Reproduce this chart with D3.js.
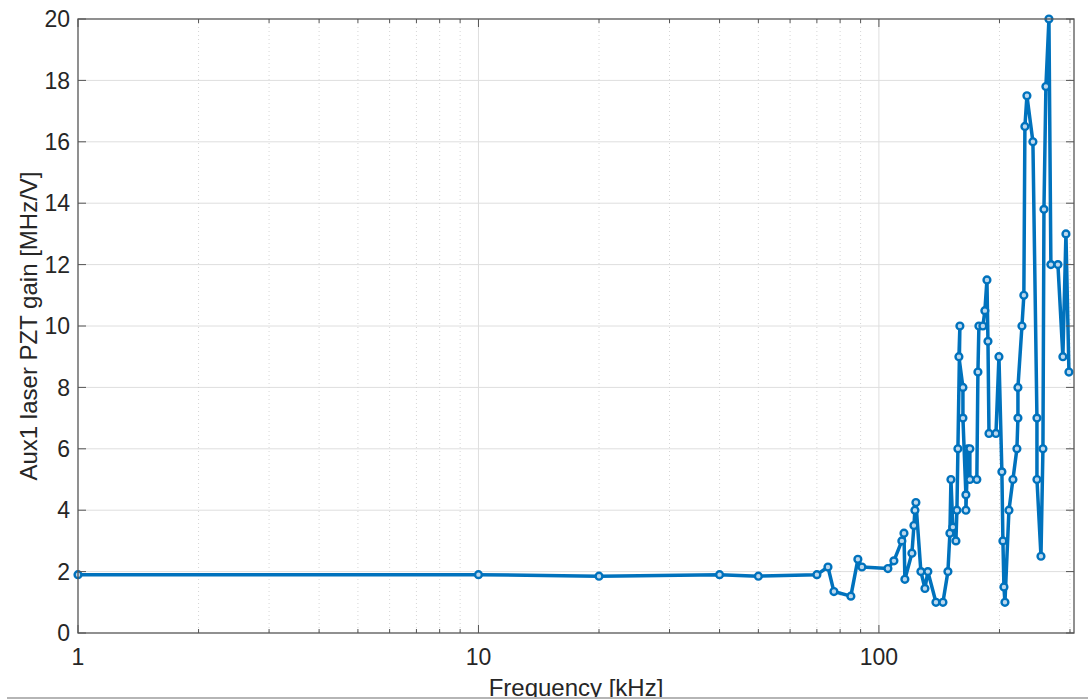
<!DOCTYPE html>
<html>
<head>
<meta charset="utf-8">
<script src="https://cdn.jsdelivr.net/npm/d3@7"></script>
<style>
  body { margin: 0; background: #fff; }
  svg { display: block; }
</style>
</head>
<body>
<div id="chart"></div>
<script>
// PZT gain vs frequency

// frequencies in kHz
const FREQ = [1, 10, 20, 40, 50, 70, 74.6, 77.2, 85.1, 88.6, 90.7,
  105.3, 109.0, 114.1, 115.5, 116.1, 120.9, 122.3, 123.0, 123.7,
  127.3, 130.3, 132.5, 138.8, 144.5, 148.7, 150.4, 151.3, 153.0,
  155.7, 156.6, 157.5, 159.3, 158.4, 162.1, 162.1, 164.9, 164.9,
  166.8, 168.7, 168.7, 175.6, 176.7, 177.7, 181.8, 183.9, 186.1,
  187.2, 188.3, 196.0, 199.4, 202.8, 204.0, 205.2, 206.4, 211.2,
  216.1, 221.1, 222.4, 222.4, 227.6, 230.1, 231.5, 234.2, 242.4,
  248.1, 248.1, 253.9, 256.8, 258.3, 261.2, 265.8, 268.8, 279.9,
  288.0, 293.1, 298.2];

// gain in MHz/V
const GAIN = [1.9, 1.9, 1.85, 1.9, 1.85, 1.9, 2.15, 1.35, 1.2, 2.4, 2.15,
  2.1, 2.35, 3.0, 3.25, 1.75, 2.6, 3.5, 4.0, 4.25,
  2.0, 1.45, 2.0, 1.0, 1.0, 2.0, 3.25, 5.0, 3.45,
  3.0, 4.0, 6.0, 10.0, 9.0, 8.0, 7.0, 4.5, 4.0,
  6.0, 6.0, 5.0, 5.0, 8.5, 10.0, 10.0, 10.5, 11.5,
  9.5, 6.5, 6.5, 9.0, 5.25, 3.0, 1.5, 1.0, 4.0,
  5.0, 6.0, 7.0, 8.0, 10.0, 11.0, 16.5, 17.5, 16.0,
  7.0, 5.0, 2.5, 6.0, 13.8, 17.8, 20.0, 12.0, 12.0,
  9.0, 13.0, 8.5];

const X_MAJOR = [1, 10, 100];
const X_MINOR = [2, 3, 4, 5, 6, 7, 8, 9, 20, 30, 40, 50, 60, 70, 80, 90, 200, 300];
const Y_TICKS = [0, 2, 4, 6, 8, 10, 12, 14, 16, 18, 20];

const X_LABEL = "Frequency [kHz]";
const Y_LABEL = "Aux1 laser PZT gain [MHz/V]";

const W = 1088, H = 700;
const margin = {top: 19, right: 14, bottom: 67, left: 78};
const width = W - margin.left - margin.right;
const height = H - margin.top - margin.bottom;

const data = FREQ.map((f, i) => ({f: f, g: GAIN[i]}));

const svg = d3.select("#chart").append("svg")
  .attr("width", W)
  .attr("height", H);

const g = svg.append("g")
  .attr("transform", `translate(${margin.left},${margin.top})`);

const x = d3.scaleLog().domain([1, 307]).range([0, width]);
const y = d3.scaleLinear().domain([0, 20]).range([height, 0]);

const axisColor = "#555";
const font = "'Liberation Sans', Arial, Helvetica, sans-serif";

// grid
g.append("g").selectAll("line")
  .data(Y_TICKS.slice(1, -1))
  .join("line")
  .attr("x1", 0).attr("x2", width)
  .attr("y1", d => y(d)).attr("y2", d => y(d))
  .attr("stroke", "#dedede").attr("stroke-width", 1);

g.append("g").selectAll("line")
  .data(X_MAJOR.slice(1))
  .join("line")
  .attr("x1", d => x(d)).attr("x2", d => x(d))
  .attr("y1", 0).attr("y2", height)
  .attr("stroke", "#dedede").attr("stroke-width", 1);

g.append("g").selectAll("line")
  .data(X_MINOR)
  .join("line")
  .attr("x1", d => x(d)).attr("x2", d => x(d))
  .attr("y1", 0).attr("y2", height)
  .attr("stroke", "#d6d6d6").attr("stroke-width", 1)
  .attr("stroke-dasharray", "1,3");

// the data line
const line = d3.line().x(d => x(d.f)).y(d => y(d.g));

g.append("path")
  .datum(data)
  .attr("fill", "none")
  .attr("stroke", "#0072BD")
  .attr("stroke-width", 3.5)
  .attr("stroke-linejoin", "round")
  .attr("d", line);

g.append("g").selectAll("circle")
  .data(data)
  .join("circle")
  .attr("cx", d => x(d.f))
  .attr("cy", d => y(d.g))
  .attr("r", 3.4)
  .attr("fill", "#bcd8ee")
  .attr("stroke", "#0072BD")
  .attr("stroke-width", 2.4);

// axes box
g.append("rect")
  .attr("x", 0).attr("y", 0)
  .attr("width", width).attr("height", height)
  .attr("fill", "none")
  .attr("stroke", axisColor).attr("stroke-width", 1.3);

// ticks (inward)
const yTickG = g.append("g");
Y_TICKS.forEach(t => {
  yTickG.append("line").attr("x1", 0).attr("x2", 8)
    .attr("y1", y(t)).attr("y2", y(t)).attr("stroke", axisColor);
  yTickG.append("line").attr("x1", width - 8).attr("x2", width)
    .attr("y1", y(t)).attr("y2", y(t)).attr("stroke", axisColor);
});

const xTickG = g.append("g");
X_MAJOR.concat(X_MINOR).forEach(t => {
  const len = X_MAJOR.includes(t) ? 8 : 4;
  xTickG.append("line").attr("x1", x(t)).attr("x2", x(t))
    .attr("y1", height).attr("y2", height - len).attr("stroke", axisColor);
  xTickG.append("line").attr("x1", x(t)).attr("x2", x(t))
    .attr("y1", 0).attr("y2", len).attr("stroke", axisColor);
});

// tick labels
g.append("g").selectAll("text")
  .data(Y_TICKS)
  .join("text")
  .attr("x", -8)
  .attr("y", d => y(d))
  .attr("dy", "0.36em")
  .attr("text-anchor", "end")
  .attr("font-family", font)
  .attr("font-size", 23)
  .attr("fill", "#262626")
  .text(d => d);

g.append("g").selectAll("text")
  .data(X_MAJOR)
  .join("text")
  .attr("x", d => x(d))
  .attr("y", height + 32)
  .attr("text-anchor", "middle")
  .attr("font-family", font)
  .attr("font-size", 23)
  .attr("fill", "#262626")
  .text(d => d);

// axis labels
svg.append("text")
  .attr("x", margin.left + width / 2)
  .attr("y", 696)
  .attr("text-anchor", "middle")
  .attr("font-family", font)
  .attr("font-size", 24)
  .attr("fill", "#262626")
  .text(X_LABEL);

svg.append("text")
  .attr("transform", `translate(37,${margin.top + height / 2}) rotate(-90)`)
  .attr("text-anchor", "middle")
  .attr("font-family", font)
  .attr("font-size", 24)
  .attr("fill", "#262626")
  .text(Y_LABEL);

// bottom edge of the screenshot: cuts the x label
svg.append("rect")
  .attr("x", 0).attr("y", 697)
  .attr("width", W).attr("height", 3)
  .attr("fill", "#fff");
svg.append("line")
  .attr("x1", 7).attr("x2", W)
  .attr("y1", 698).attr("y2", 698)
  .attr("stroke", "#b5b5b5").attr("stroke-width", 2);
</script>
</body>
</html>
